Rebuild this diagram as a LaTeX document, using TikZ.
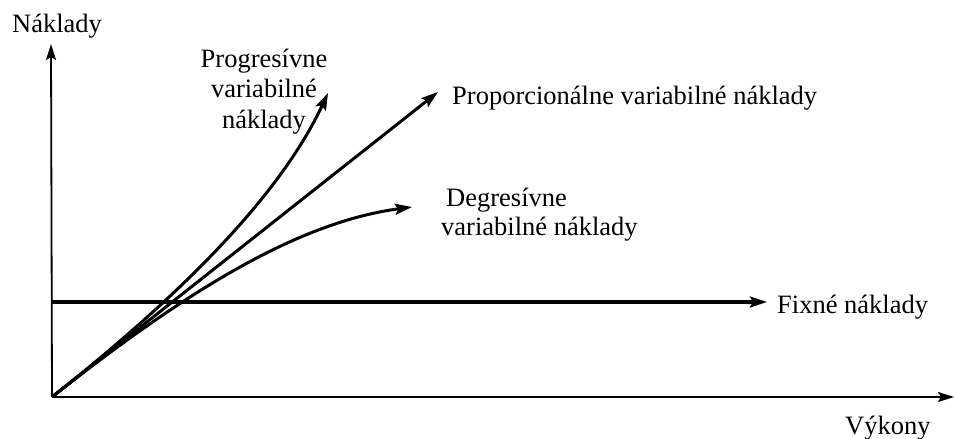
\documentclass[tikz,border=0pt]{standalone}
\usepackage{fontspec}
\setmainfont{Liberation Serif}
\usetikzlibrary{arrows.meta}
\begin{document}
\begin{tikzpicture}[x=1pt,y=-1pt,
  lbl/.style={font=\fontsize{26.5}{30.5}\selectfont, inner sep=0pt},
  axis/.style={line width=1.8pt, -{Stealth[length=16pt,width=10pt,inset=3pt]}},
  cost/.style={line width=3pt, -{Stealth[length=17pt,width=11pt,inset=3pt]}}]
\useasboundingbox (0,0) rectangle (954,439);

% axes
\coordinate (O) at (52,397);
\coordinate (ytip) at (51,44);
\coordinate (xtip) at (954,397);
\draw[axis] (O) -- (ytip);
\draw[axis] (O) -- (xtip);
\node[lbl, anchor=base west] (ylab) at (12,32) {Náklady};
\node[lbl, anchor=base west] (xlab) at (845,434) {Výkony};

% fixed costs
\coordinate (F0) at (52,302);
\coordinate (ftip) at (767,302);
\draw[cost, line width=3.2pt] (F0) -- (ftip);
\node[lbl, anchor=base west] (flab) at (777,313) {Fixné náklady};

% variable costs: both curves leave the origin along the proportional line
\coordinate (ptip) at (328,93);
\coordinate (qtip) at (438,92);
\coordinate (dtip) at (412,207);
\draw[cost] (O) .. controls (200,280) and (285,185) .. (ptip);
\draw[cost] (O) -- (qtip);
\draw[cost] (O) .. controls (190,288) and (300,222) .. (dtip);

\node[lbl, align=center, anchor=north] (plab) at (264,48.5)
  {Progresívne\\variabilné\\náklady};
\node[lbl, anchor=base west] (qlab) at (452,104)
  {Proporcionálne variabilné náklady};
\node[lbl, align=left, anchor=north west, font=\fontsize{26.5}{29}\selectfont] (dlab) at (441,188)
  {\hspace*{5pt}Degresívne\\variabilné náklady};
\end{tikzpicture}
\end{document}
